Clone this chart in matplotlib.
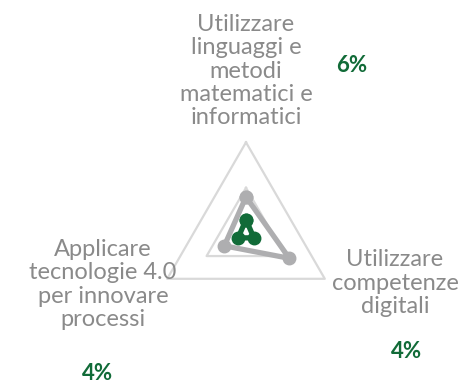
import numpy as np
import matplotlib.pyplot as plt

# axes: top, bottom-right, bottom-left
labels = ["Utilizzare\nlinguaggi e\nmetodi\nmatematici e\ninformatici",
          "Utilizzare\ncompetenze\ndigitali",
          "Applicare\ntecnologie 4.0\nper innovare\nprocessi"]
gray_vals = [0.16, 0.22, 0.11]
green_vals = [0.06, 0.04, 0.04]
pct_labels = ["6%", "4%", "4%"]
grid_levels = [0.2, 0.4]

angles = np.deg2rad([90, -30, 210])
GREEN = "#116B38"
GRAY = "#AEAEB0"
GRID = "#D9D9D9"
TXT = "#8A8A8A"


def to_xy(vals):
    v = np.array(vals + vals[:1])
    a = np.concatenate([angles, angles[:1]])
    return v * np.cos(a), v * np.sin(a)


fig = plt.figure(figsize=(4.67, 3.85), dpi=100)
# square axes centred on the radar centre
cx, cy, size = 246 / 467, 1 - 233.3 / 385, 200
ax = fig.add_axes([cx - size / 2 / 467, cy - size / 2 / 385, size / 467, size / 385])
lim = 0.4 * (size / 2) / 91
ax.set_xlim(-lim, lim)
ax.set_ylim(-lim, lim)
ax.set_aspect("equal")
ax.axis("off")

for g in grid_levels:
    x, y = to_xy([g] * 3)
    ax.plot(x, y, color=GRID, lw=1.6, zorder=1)

x, y = to_xy(gray_vals)
ax.plot(x, y, color=GRAY, lw=3.8, marker="o", ms=9, zorder=2, solid_joinstyle="round")
x, y = to_xy(green_vals)
ax.plot(x, y, color=GREEN, lw=3.8, marker="o", ms=9, zorder=3, solid_joinstyle="round")

font = "Lato"
lab_kw = dict(ha="center", va="center", fontsize=17, color=TXT, family=font,
              linespacing=1.13)
fig.text(246 / 467, 1 - 71 / 385, labels[0], **lab_kw)
fig.text(395 / 467, 1 - 283 / 385, labels[1], **lab_kw)
fig.text(103 / 467, 1 - 284.5 / 385, labels[2], **lab_kw)

pct_kw = dict(ha="center", va="center", fontsize=16, color=GREEN, family=font,
              fontweight="bold")
fig.text(352 / 467, 1 - 65 / 385, pct_labels[0], **pct_kw)
fig.text(407 / 467, 1 - 352 / 385, pct_labels[1], **pct_kw)
fig.text(98 / 467, 1 - 373 / 385, pct_labels[2], **pct_kw)

fig.savefig("out.png", dpi=100)
